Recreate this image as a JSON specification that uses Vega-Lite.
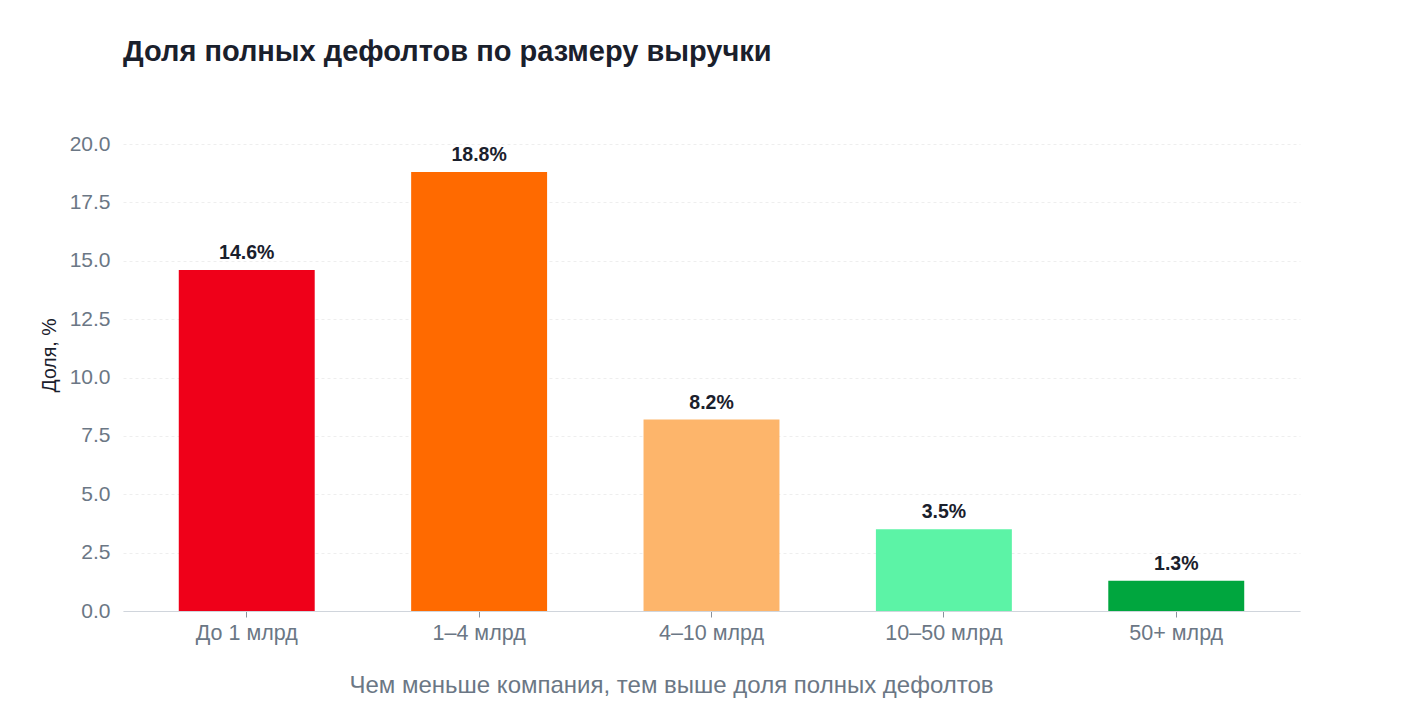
{
  "$schema": "https://vega.github.io/schema/vega-lite/v6.json",
  "autosize": "none",
  "width": 1177,
  "height": 467,
  "padding": {"left": 123, "top": 144, "right": 102, "bottom": 103},
  "background": "white",
  "title": {
    "text": "Доля полных дефолтов по размеру выручки",
    "anchor": "start",
    "frame": "group",
    "font": "Liberation Sans",
    "fontSize": 29,
    "fontWeight": "bold",
    "color": "#1a202c",
    "offset": 66
  },
  "data": {
    "values": [
      {"group": "До 1 млрд", "share": 14.6, "label": "14.6%"},
      {"group": "1–4 млрд", "share": 18.8, "label": "18.8%"},
      {"group": "4–10 млрд", "share": 8.2, "label": "8.2%"},
      {"group": "10–50 млрд", "share": 3.5, "label": "3.5%"},
      {"group": "50+ млрд", "share": 1.3, "label": "1.3%"}
    ]
  },
  "config": {
    "view": {"stroke": null},
    "font": "Liberation Sans"
  },
  "encoding": {
    "x": {
      "field": "group",
      "type": "nominal",
      "sort": null,
      "scale": {"paddingInner": 0.415, "paddingOuter": 0.24},
      "axis": {
        "title": "Чем меньше компания, тем выше доля полных дефолтов",
        "titleFontSize": 24,
        "titleFontWeight": "normal",
        "titleColor": "#6b7785",
        "titlePadding": 30,
        "titleX": 548,
        "labelAngle": 0,
        "labelFontSize": 21.5,
        "labelColor": "#6b7785",
        "labelPadding": 5,
        "domainColor": "#d0d5dc",
        "tickColor": "#8a929c",
        "tickSize": 6,
        "grid": false
      }
    },
    "y": {
      "field": "share",
      "type": "quantitative",
      "scale": {"domain": [0, 20], "nice": false},
      "axis": {
        "title": "Доля, %",
        "titleFontSize": 19.5,
        "titleFontWeight": "normal",
        "titleColor": "#1a202c",
        "titlePadding": 10,
        "titleY": 211,
        "values": [0, 2.5, 5, 7.5, 10, 12.5, 15, 17.5, 20],
        "format": ".1f",
        "labelFontSize": 21,
        "labelColor": "#6b7785",
        "labelPadding": 13,
        "domain": false,
        "ticks": false,
        "gridColor": "#eeeeee",
        "gridDash": [3, 3]
      }
    }
  },
  "layer": [
    {
      "mark": {"type": "bar"},
      "encoding": {
        "color": {
          "field": "group",
          "type": "nominal",
          "sort": null,
          "legend": null,
          "scale": {
            "domain": ["До 1 млрд", "1–4 млрд", "4–10 млрд", "10–50 млрд", "50+ млрд"],
            "range": ["#ef0019", "#ff6a00", "#fdb56b", "#5cf3a6", "#00a63e"]
          }
        }
      }
    },
    {
      "mark": {
        "type": "text",
        "baseline": "bottom",
        "dy": -7,
        "fontSize": 19.5,
        "fontWeight": "bold",
        "color": "#1a202c"
      },
      "encoding": {
        "text": {"field": "label"}
      }
    }
  ]
}
